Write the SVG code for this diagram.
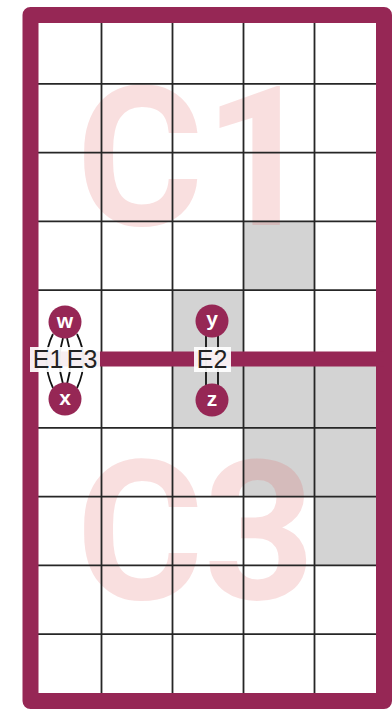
<svg xmlns="http://www.w3.org/2000/svg" width="392" height="710" viewBox="0 0 392 710">
<style>
.cell{fill:#d3d3d3}
.big{font-family:Roboto,"Noto Sans",sans-serif;font-weight:bold;font-size:195px;fill:#e06060;fill-opacity:0.2}
.grid line{stroke:#262626;stroke-width:1.8}
.edge{fill:none;stroke:#111;stroke-width:1.8}
.node circle{fill:#962755}
.node text{font-family:"Liberation Sans",Arial,sans-serif;font-weight:bold;font-size:21px;fill:#fff;text-anchor:middle}
.lbl rect{fill:#fff;fill-opacity:0.92}
.lbl text{font-family:"Liberation Sans",Arial,sans-serif;font-size:25px;fill:#222;text-anchor:middle}
</style>
<rect x="0" y="0" width="392" height="710" fill="#fff"/>
<g id="shading">
<rect class="cell" x="243.5" y="221.4" width="71" height="68.8"/>
<rect class="cell" x="172.5" y="290.2" width="71" height="68.8"/>
<rect class="cell" x="172.5" y="359" width="212" height="68.8"/>
<rect class="cell" x="243.5" y="427.8" width="141" height="68.8"/>
<rect class="cell" x="314.5" y="496.6" width="70" height="68.8"/>
</g>
<g id="regions">
<text class="big" x="76" y="225">C1</text>
<text class="big" x="76" y="599">C3</text>
</g>
<g class="grid" id="grid">
<line x1="101.5" y1="15" x2="101.5" y2="701"/>
<line x1="172.5" y1="15" x2="172.5" y2="701"/>
<line x1="243.5" y1="15" x2="243.5" y2="701"/>
<line x1="314.5" y1="15" x2="314.5" y2="701"/>
<line x1="30.5" y1="83.8" x2="384" y2="83.8"/>
<line x1="30.5" y1="152.6" x2="384" y2="152.6"/>
<line x1="30.5" y1="221.4" x2="384" y2="221.4"/>
<line x1="30.5" y1="290.2" x2="384" y2="290.2"/>
<line x1="30.5" y1="359" x2="384" y2="359"/>
<line x1="30.5" y1="427.8" x2="384" y2="427.8"/>
<line x1="30.5" y1="496.6" x2="384" y2="496.6"/>
<line x1="30.5" y1="565.4" x2="384" y2="565.4"/>
<line x1="30.5" y1="634.2" x2="384" y2="634.2"/>
</g>
<g id="border">
<rect x="30.5" y="15" width="353.5" height="686" fill="none" stroke="#962755" stroke-width="16" stroke-linejoin="round"/>
<line x1="30.5" y1="359" x2="384" y2="359" stroke="#962755" stroke-width="15"/>
</g>
<g id="connectors">
<path class="edge" d="M53 334 Q40 360 53 388"/>
<path class="edge" d="M63 338 Q56 361 63 384"/>
<path class="edge" d="M67 338 Q74 361 67 384"/>
<path class="edge" d="M77 334 Q90 360 77 388"/>
<line class="edge" x1="206" y1="336" x2="206" y2="385"/>
<line class="edge" x1="218" y1="336" x2="218" y2="385"/>
<g class="lbl" id="label-E1"><rect x="30" y="347" width="35" height="25"/><text x="48" y="368">E1</text></g>
<g class="lbl" id="label-E3"><rect x="65" y="347" width="35" height="25"/><text x="82" y="368">E3</text></g>
<g class="lbl" id="label-E2"><rect x="194" y="347" width="37" height="25"/><text x="212" y="368">E2</text></g>
</g>
<g class="node" id="node-w"><circle cx="65" cy="322" r="16.5"/><text x="65" y="328">w</text></g>
<g class="node" id="node-x"><circle cx="65" cy="399" r="16.5"/><text x="65" y="405">x</text></g>
<g class="node" id="node-y"><circle cx="212" cy="321" r="16.5"/><text x="212" y="326">y</text></g>
<g class="node" id="node-z"><circle cx="212" cy="400" r="16.5"/><text x="212" y="406">z</text></g>
</svg>
